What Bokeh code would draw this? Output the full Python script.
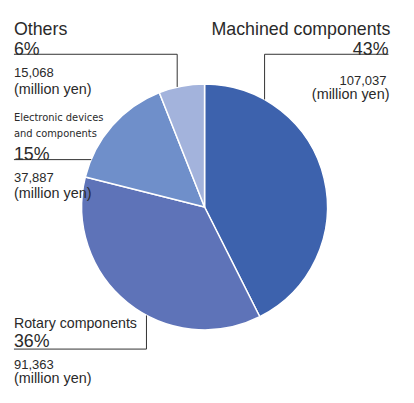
import math
from bokeh.plotting import figure
from bokeh.models import Range1d
from bokeh.core.properties import value
from bokeh.embed import file_html
from bokeh.resources import INLINE

# ---- data ----
segments = ["Machined components", "Rotary components", "Electronic devices and components", "Others"]
sales = [107037, 91363, 37887, 15068]
colors = ["#3d62ad", "#5e73b8", "#6f8fca", "#a3b3dc"]
unit = "(million yen)"

REF_W, REF_H = 414, 403
W, H = 398, 387
S = H / REF_H

p = figure(width=W, height=H, output_backend="svg", toolbar_location=None,
           x_range=Range1d(0, W / S), y_range=Range1d(0, REF_H),
           min_border=0)
p.axis.visible = False
p.grid.visible = False
p.outline_line_color = None
p.background_fill_color = "white"

def Y(py):
    return REF_H - py

cx, cy, r = 212.5, 215, 128
total = sum(sales)
starts, ends = [], []
cum = 0.0
for v in sales:
    starts.append(math.pi / 2 - 2 * math.pi * cum / total)
    cum += v
    ends.append(math.pi / 2 - 2 * math.pi * cum / total)

p.wedge(x=[cx] * 4, y=[Y(cy)] * 4, radius=r, start_angle=starts, end_angle=ends,
        direction="clock", fill_color=colors, line_color="white", line_width=1.5)

pct = [f"{round(100 * v / total)}%" for v in sales]
nums = [f"{v:,}" for v in sales]

TXT = "#2a2a2a"
F = value("Liberation Sans")
FN = value("DejaVu Sans Condensed")

def txt(x, y, s, size, align="left", font=F):
    p.text(x=[x], y=[Y(y)], text=[s], text_font=font, text_font_size=f"{size * S:.1f}px",
           text_color=TXT, text_align=align, text_baseline="alphabetic")

def line(xs, ys):
    p.line(x=xs, y=[Y(v) for v in ys], line_color="#333333", line_width=1)

# Machined components (right top)
txt(406, 29.5, segments[0], 18.5, "right")
txt(404, 50.5, pct[0], 18.5, "right")
txt(402, 83, nums[0], 13.5, "right")
txt(405, 97, unit, 15, "right")
line([404, 275, 275], [56, 56, 103])

# Others (left top)
txt(14, 29.5, segments[3], 18.5)
txt(14, 50.5, pct[3], 18.5)
txt(14, 75, nums[3], 13.5)
txt(14, 92, unit, 15)
line([14, 184, 184], [56, 56, 90])

# Electronic devices and components
txt(14, 121.5, "Electronic devices", 11.5, font=FN)
txt(14, 138, "and components", 11.5, font=FN)
txt(14, 159.5, pct[2], 18.5)
txt(14, 184.5, nums[2], 13.5)
txt(14, 200, unit, 15)
line([14, 94.5], [165.7, 165.7])

# Rotary components
txt(14, 335.5, segments[1], 14.8)
txt(14, 355, pct[1], 18.5)
txt(14, 379.5, nums[1], 13.5)
txt(14, 393, unit, 15)
line([14, 152, 152], [363, 363, 328])

open("out.html", "w").write(file_html(p, INLINE))
